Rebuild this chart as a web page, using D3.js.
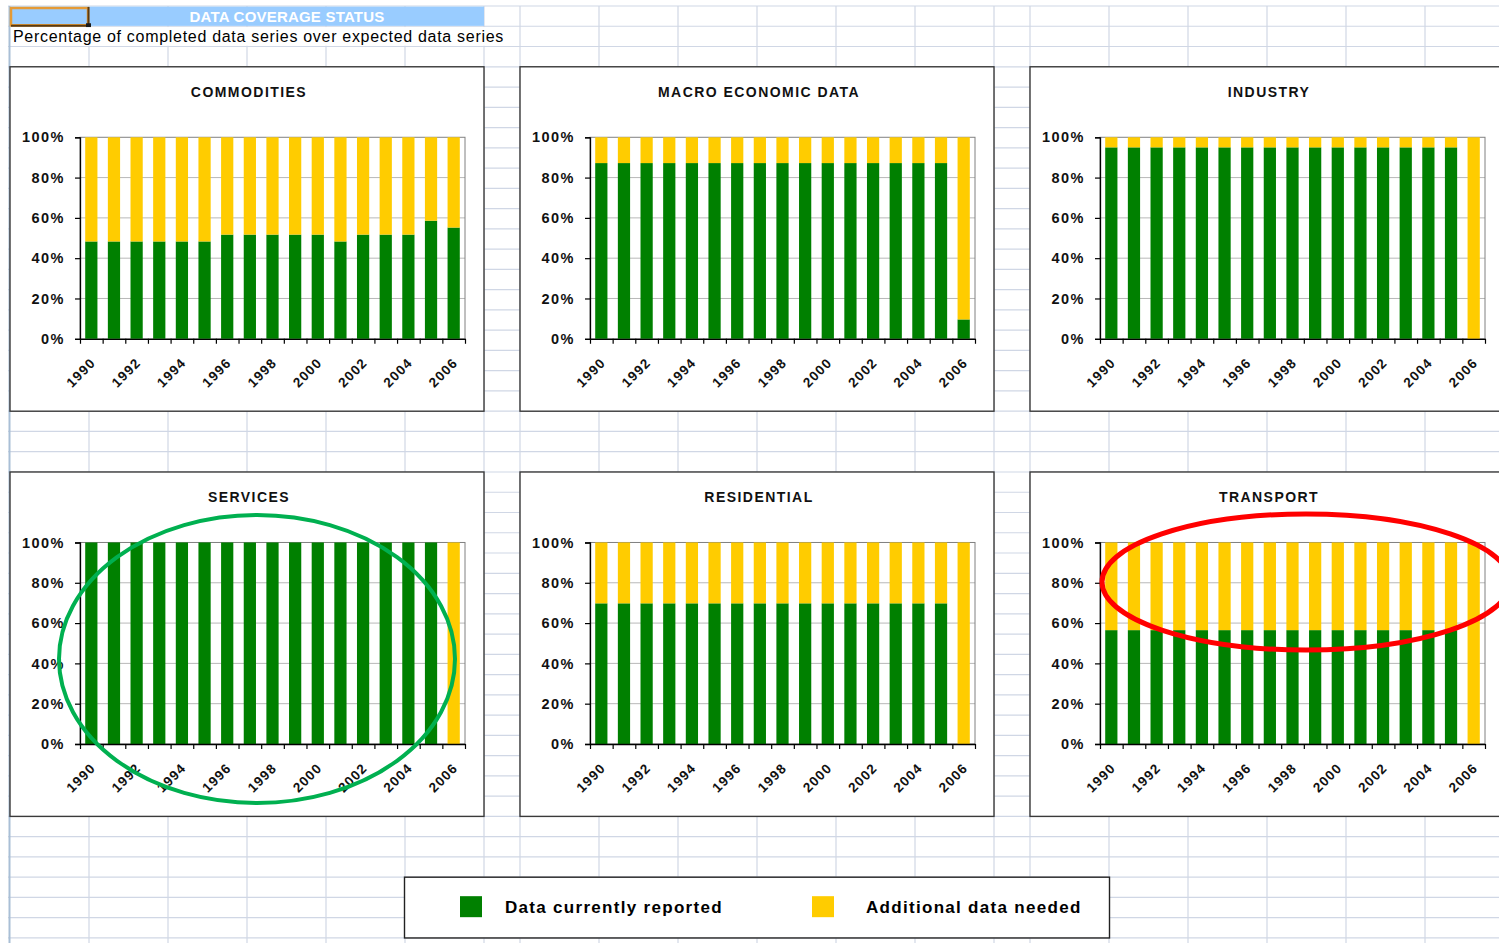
<!DOCTYPE html>
<html>
<head>
<meta charset="utf-8">
<script src="https://cdn.jsdelivr.net/npm/d3@7"></script>
<style>
body{margin:0;background:#fff;overflow:hidden;}
svg{display:block;font-family:"Liberation Sans",Arial,sans-serif;}
</style>
</head>
<body>
<svg id="sheet" width="1499" height="943"></svg>
<script>
// categories
const years = [1990,1991,1992,1993,1994,1995,1996,1997,1998,1999,2000,2001,2002,2003,2004,2005,2006];
const yearLabels = [1990,1992,1994,1996,1998,2000,2002,2004,2006];
const yTicks = [0,20,40,60,80,100];
const panelTitles = ["COMMODITIES","MACRO ECONOMIC DATA","INDUSTRY","SERVICES","RESIDENTIAL","TRANSPORT"];
const legendLabels = ["Data currently reported","Additional data needed"];

// % of series reported / still needed, per year
const commoditiesReported = [48.3,48.3,48.3,48.3,48.3,48.3,51.7,51.7,51.7,51.7,51.7,48.3,51.7,51.7,51.7,58.6,55.2];
const commoditiesNeeded   = [51.7,51.7,51.7,51.7,51.7,51.7,48.3,48.3,48.3,48.3,48.3,51.7,48.3,48.3,48.3,41.4,44.8];
const macroReported = [87.2,87.2,87.2,87.2,87.2,87.2,87.2,87.2,87.2,87.2,87.2,87.2,87.2,87.2,87.2,87.2,9.6];
const macroNeeded   = [12.8,12.8,12.8,12.8,12.8,12.8,12.8,12.8,12.8,12.8,12.8,12.8,12.8,12.8,12.8,12.8,90.4];
const industryReported = [95,95,95,95,95,95,95,95,95,95,95,95,95,95,95,95,0];
const industryNeeded   = [5,5,5,5,5,5,5,5,5,5,5,5,5,5,5,5,100];
const servicesReported = [100,100,100,100,100,100,100,100,100,100,100,100,100,100,100,100,0];
const servicesNeeded   = [0,0,0,0,0,0,0,0,0,0,0,0,0,0,0,0,100];
const residentialReported = [69.8,69.8,69.8,69.8,69.8,69.8,69.8,69.8,69.8,69.8,69.8,69.8,69.8,69.8,69.8,69.8,0];
const residentialNeeded   = [30.2,30.2,30.2,30.2,30.2,30.2,30.2,30.2,30.2,30.2,30.2,30.2,30.2,30.2,30.2,30.2,100];
const transportReported = [56.5,56.5,56.5,56.5,56.5,56.5,56.5,56.5,56.5,56.5,56.5,56.5,56.5,56.5,56.5,56.5,0];
const transportNeeded   = [43.5,43.5,43.5,43.5,43.5,43.5,43.5,43.5,43.5,43.5,43.5,43.5,43.5,43.5,43.5,43.5,100];

const reportedSeries = [commoditiesReported, macroReported, industryReported, servicesReported, residentialReported, transportReported];
const neededSeries = [commoditiesNeeded, macroNeeded, industryNeeded, servicesNeeded, residentialNeeded, transportNeeded];

const GREEN = "#008000", YELLOW = "#FFCC00";
const W = 1499, H = 943;
const rowH = 20.26, top0 = 6;
const colWidths = [79,79,79,79,79,79,36,79,79,79,79,79,79,36,79,79,79,79,79,79];
const FONT = '"Liberation Sans",Arial,sans-serif';

const svg = d3.select("#sheet");

// ---- spreadsheet grid
const grid = svg.append("g");
let cx = 10;
const colX = [cx];
colWidths.forEach(w => { cx += w; colX.push(cx); });
colX.slice(1).forEach(x => {
    grid.append("line").attr("x1", x).attr("x2", x).attr("y1", top0).attr("y2", H)
        .attr("stroke", "#D0D7E5").attr("stroke-width", 1.2);
});
for(let r = 0; top0 + r * rowH < H; r++){
    const y = top0 + r * rowH;
    grid.append("line").attr("x1", 8).attr("x2", W).attr("y1", y).attr("y2", y)
        .attr("stroke", "#D0D7E5").attr("stroke-width", 1.2);
}
grid.append("line").attr("x1", 9.5).attr("x2", 9.5).attr("y1", top0).attr("y2", H)
    .attr("stroke", "#A9BFD6").attr("stroke-width", 2);

// title row
svg.append("rect").attr("x", 10.5).attr("y", top0 + 0.6).attr("width", 473.5).attr("height", rowH - 1)
    .attr("fill", "#99CCFF");
svg.append("text").attr("x", 287).attr("y", 22).attr("text-anchor", "middle")
    .attr("fill", "#fff").attr("font-size", 15).attr("font-weight", "bold").attr("letter-spacing", 0.2)
    .text("DATA COVERAGE STATUS");
// selected cell A1
svg.append("rect").attr("x", 11).attr("y", top0 + 2).attr("width", 77).attr("height", rowH - 3)
    .attr("fill", "none").attr("stroke", "#E59A35").attr("stroke-width", 2.5);
svg.append("path").attr("d", `M88.5,${top0 + 1} V${top0 + rowH - 0.5} H11`)
    .attr("fill", "none").attr("stroke", "#5A3A12").attr("stroke-width", 2);
svg.append("rect").attr("x", 86).attr("y", top0 + rowH - 3).attr("width", 5).attr("height", 5).attr("fill", "#1a1a1a");

// subtitle row (text overflow hides gridlines)
svg.append("rect").attr("x", 11).attr("y", top0 + rowH + 0.8).attr("width", 508).attr("height", rowH - 1.6).attr("fill", "#fff");
svg.append("text").attr("x", 13).attr("y", 42).attr("fill", "#000").attr("font-size", 16).attr("letter-spacing", 0.7)
    .text("Percentage of completed data series over expected data series");

// ---- panels
const panelW = 474, panelH = 17 * rowH;
const plotL = 70, plotR = 455, plotT = 70.5, plotB = 272;

const x = d3.scaleBand().domain(years).range([0, plotR - plotL]).paddingInner(0.46).paddingOuter(0.23);
const xEdge = d3.scaleLinear().domain([0, years.length]).range([0, plotR - plotL]);
const y = d3.scaleLinear().domain([0, 100]).range([plotB - plotT, 0]);
const stack = d3.stack().keys(["reported", "needed"]);

panelTitles.forEach((title, i) => {
    const bx = 10 + (i % 3) * 510;
    const by = top0 + (i < 3 ? 3 : 23) * rowH;
    const g = svg.append("g").attr("transform", `translate(${bx},${by})`);
    g.append("rect").attr("width", panelW).attr("height", panelH)
        .attr("fill", "#fff").attr("stroke", "#3a3a3a").attr("stroke-width", 1.4);
    g.append("text").attr("x", panelW / 2 + 2).attr("y", 30).attr("text-anchor", "middle")
        .attr("font-size", 14).attr("font-weight", "bold").attr("letter-spacing", 1.45)
        .attr("fill", "#111").text(title);

    const plot = g.append("g").attr("transform", `translate(${plotL},${plotT})`);
    // gridlines
    plot.append("g").selectAll("line").data(yTicks.slice(1, -1)).join("line")
        .attr("x1", 0).attr("x2", plotR - plotL).attr("y1", d => y(d)).attr("y2", d => y(d))
        .attr("stroke", "#B8B8B8").attr("stroke-width", 1);
    plot.append("rect").attr("width", plotR - plotL).attr("height", plotB - plotT)
        .attr("fill", "none").attr("stroke", "#808080").attr("stroke-width", 1);

    const rows = years.map((yr, k) => ({year: yr, reported: reportedSeries[i][k], needed: neededSeries[i][k]}));
    const layers = stack(rows);
    plot.append("g").selectAll("g").data(layers).join("g")
        .attr("fill", (d, k) => k === 0 ? GREEN : YELLOW)
        .selectAll("rect").data(d => d).join("rect")
        .attr("x", d => x(d.data.year))
        .attr("width", x.bandwidth())
        .attr("y", d => y(d[1]))
        .attr("height", d => y(d[0]) - y(d[1]));

    // y axis
    const ya = plot.append("g").call(d3.axisLeft(y).tickValues(yTicks).tickFormat(d => d + "%").tickSize(5).tickPadding(10));
    ya.select(".domain").attr("stroke", "#000").attr("stroke-width", 1.3);
    ya.selectAll(".tick line").attr("stroke", "#000").attr("stroke-width", 1.2);
    ya.selectAll("text").attr("font-size", 14.5).attr("font-weight", "bold").attr("letter-spacing", 1.5)
        .attr("fill", "#111").attr("font-family", FONT);

    // x axis ticks at category edges
    const xa = plot.append("g").attr("transform", `translate(0,${plotB - plotT})`)
        .call(d3.axisBottom(xEdge).tickValues(d3.range(years.length + 1)).tickFormat("").tickSize(5).tickSizeOuter(0));
    xa.select(".domain").attr("stroke", "#000").attr("stroke-width", 1.3);
    xa.selectAll(".tick line").attr("stroke", "#000").attr("stroke-width", 1.2);

    // year labels
    const xl = plot.append("g").attr("transform", `translate(0,${plotB - plotT})`)
        .call(d3.axisBottom(x).tickValues(yearLabels).tickSize(0));
    xl.select(".domain").remove();
    xl.selectAll("text")
        .attr("x", 0).attr("y", 0).attr("dy", 0)
        .attr("text-anchor", "end")
        .attr("transform", "translate(5,25) rotate(-45)")
        .attr("font-size", 13.5).attr("font-weight", "bold").attr("letter-spacing", 1.1)
        .attr("fill", "#111").attr("font-family", FONT);
});

// ---- annotations
svg.append("ellipse").attr("cx", 257).attr("cy", 659).attr("rx", 198).attr("ry", 144)
    .attr("fill", "none").attr("stroke", "#00B050").attr("stroke-width", 4);
svg.append("ellipse").attr("cx", 1306).attr("cy", 582).attr("rx", 204).attr("ry", 68)
    .attr("fill", "none").attr("stroke", "#FF0000").attr("stroke-width", 5);

// ---- legend
const lg = svg.append("g").attr("transform", `translate(404.5,${top0 + 43 * rowH})`);
lg.append("rect").attr("width", 705).attr("height", 3 * rowH)
    .attr("fill", "#fff").attr("stroke", "#222").attr("stroke-width", 1.4);
const items = lg.selectAll("g.item").data(legendLabels).join("g").attr("class", "item")
    .attr("transform", (d, k) => `translate(${k === 0 ? 55.5 : 407.5},0)`);
items.append("rect").attr("y", 19).attr("width", 22).attr("height", 21)
    .attr("fill", (d, k) => k === 0 ? GREEN : YELLOW);
items.append("text").attr("x", (d, k) => k === 0 ? 45 : 54).attr("y", 36)
    .attr("font-size", 17).attr("font-weight", "bold").attr("letter-spacing", 1.3).attr("fill", "#000")
    .text(d => d);
</script>
</body>
</html>
